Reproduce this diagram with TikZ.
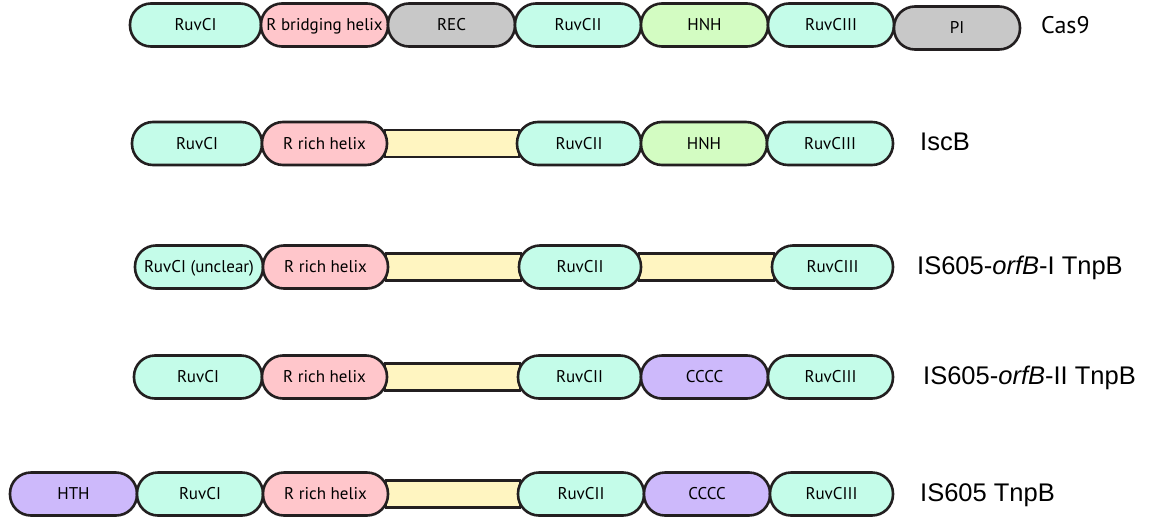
\documentclass[tikz,border=0pt]{standalone}
\usepackage{fontspec}
\newfontfamily\boxfont{PT Sans}
\newfontfamily\labfont{Liberation Sans}
\definecolor{mint}{HTML}{C4FCE9}
\definecolor{pinkd}{HTML}{FFC6CB}
\definecolor{grayd}{HTML}{C8C8C8}
\definecolor{greend}{HTML}{D3FCC2}
\definecolor{purpled}{HTML}{CDB9FB}
\definecolor{yellowd}{HTML}{FFF5C1}
\definecolor{strokec}{HTML}{231F20}
\tikzset{
  dom/.style={draw=strokec, line width=2.6pt, rectangle, rounded corners=21pt,
    minimum height=43pt, inner sep=0pt, outer sep=0pt, anchor=west,
    font=\boxfont\fontsize{17}{17}\selectfont, text height=11.5pt, text depth=0pt},
  linker/.style={draw=strokec, line width=2.6pt, rectangle, fill=yellowd,
    minimum height=27pt, inner sep=0pt, outer sep=0pt, anchor=west},
  lab/.style={anchor=base west, inner sep=0pt, font=\labfont\fontsize{25.5}{25.5}\selectfont},
}
\begin{document}
\begin{tikzpicture}[x=1pt,y=-1pt]
\useasboundingbox (0,0) rectangle (1155,519);
% Row 1: Cas9
\node[dom, fill=mint, minimum width=131pt] (a1) at (130,25) {RuvCI};
\node[dom, fill=pinkd, minimum width=127pt] (a2) at (261,25) {R bridging helix};
\node[dom, fill=grayd, minimum width=127pt] (a3) at (388,25) {REC};
\node[dom, fill=mint, minimum width=126pt] (a4) at (515,25) {RuvCII};
\node[dom, fill=greend, minimum width=127pt] (a5) at (641,25) {HNH};
\node[dom, fill=mint, minimum width=126pt] (a6) at (768,25) {RuvCIII};
\node[dom, fill=grayd, minimum width=126pt] (a7) at (894,28) {PI};
\node[anchor=base west, inner sep=0pt, font=\boxfont\fontsize{24}{24}\selectfont] (la) at (1041,34) {Cas9};
% Row 2: IscB
\node[linker, minimum width=134pt] (b0) at (385,143.5) {};
\node[dom, fill=mint, minimum width=130pt] (b1) at (132,143.5) {RuvCI};
\node[dom, fill=pinkd, minimum width=125pt] (b2) at (262,143.5) {R rich helix};
\node[dom, fill=mint, minimum width=124pt] (b3) at (517,143.5) {RuvCII};
\node[dom, fill=greend, minimum width=126pt] (b4) at (641,143.5) {HNH};
\node[dom, fill=mint, minimum width=126pt] (b5) at (767,143.5) {RuvCIII};
\node[lab] (lb) at (920,150) {IscB};
% Row 3: IS605-orfB-I TnpB
\node[linker, minimum width=135pt] (c0) at (386,267) {};
\node[linker, minimum width=135pt] (c0b) at (639,267) {};
\node[dom, fill=mint, minimum width=128pt] (c1) at (135,267) {RuvCI (unclear)};
\node[dom, fill=pinkd, minimum width=125pt] (c2) at (263,267) {R rich helix};
\node[dom, fill=mint, minimum width=122pt] (c3) at (519,267) {RuvCII};
\node[dom, fill=mint, minimum width=121pt] (c4) at (772,267) {RuvCIII};
\node[lab] (lc) at (917,274) {IS605-\textit{orfB}-I TnpB};
% Row 4: IS605-orfB-II TnpB
\node[linker, minimum width=135pt] (d0) at (385,377) {};
\node[dom, fill=mint, minimum width=128pt] (d1) at (134,377) {RuvCI};
\node[dom, fill=pinkd, minimum width=125pt] (d2) at (262,377) {R rich helix};
\node[dom, fill=mint, minimum width=123pt] (d3) at (518,377) {RuvCII};
\node[dom, fill=purpled, minimum width=127pt] (d4) at (641,377) {CCCC};
\node[dom, fill=mint, minimum width=125pt] (d5) at (768,377) {RuvCIII};
\node[lab] (ld) at (923,384) {IS605-\textit{orfB}-II TnpB};
% Row 5: IS605 TnpB
\node[linker, minimum width=134pt] (e0) at (386,494) {};
\node[dom, fill=purpled, minimum width=127pt] (e1) at (10,494) {HTH};
\node[dom, fill=mint, minimum width=126pt] (e2) at (137,494) {RuvCI};
\node[dom, fill=pinkd, minimum width=125pt] (e3) at (263,494) {R rich helix};
\node[dom, fill=mint, minimum width=126pt] (e4) at (518,494) {RuvCII};
\node[dom, fill=purpled, minimum width=126pt] (e5) at (644,494) {CCCC};
\node[dom, fill=mint, minimum width=123pt] (e6) at (770,494) {RuvCIII};
\node[lab] (le) at (920,501) {IS605 TnpB};
\end{tikzpicture}
\end{document}
